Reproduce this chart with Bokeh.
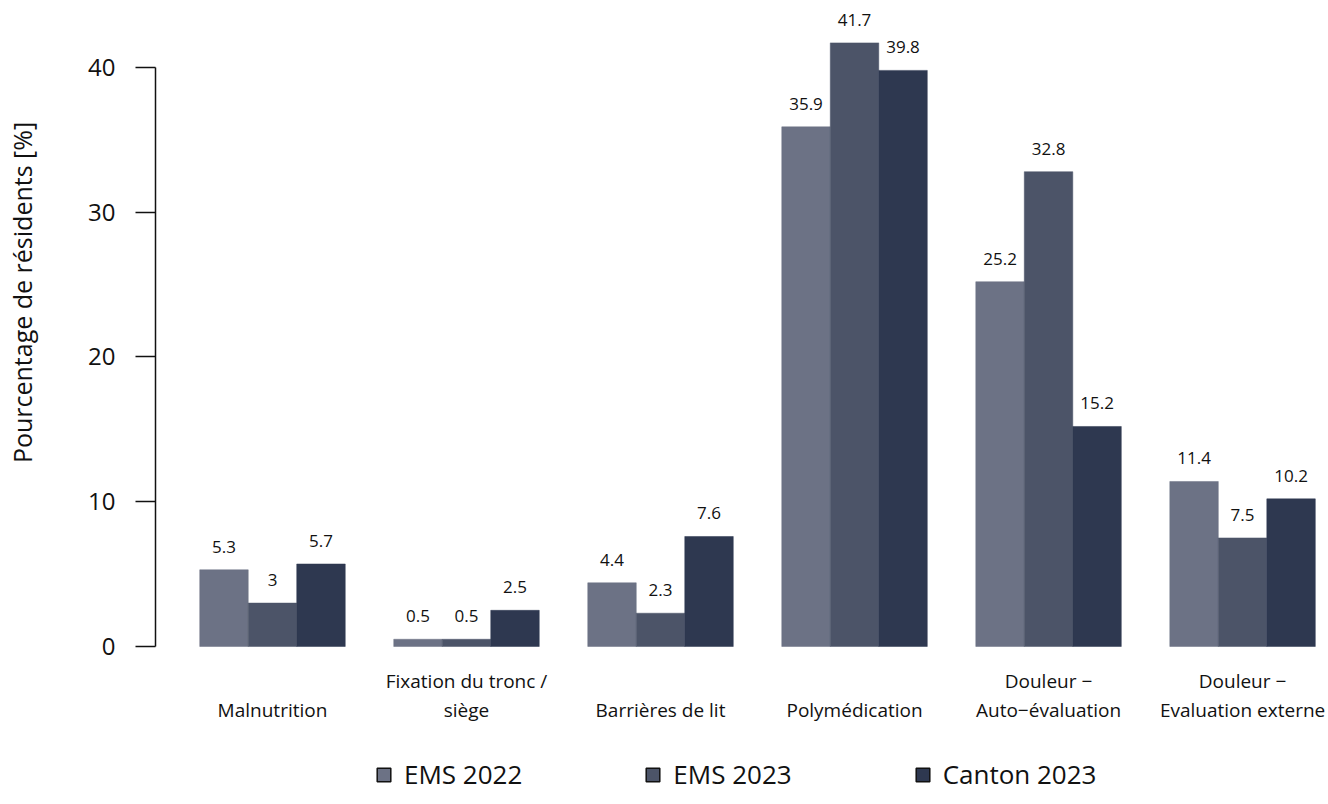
import math
from bokeh.plotting import figure
from bokeh.layouts import row
from bokeh.models import Range1d, FixedTicker, ColumnDataSource, Legend, LegendItem
from bokeh.transform import dodge
from bokeh.core.properties import value
from bokeh.embed import file_html
from bokeh.resources import INLINE

categories = ["Malnutrition", "Fixation du tronc /\nsiège", "Barrières de lit",
              "Polymédication", "Douleur \u2212\nAuto\u2212évaluation",
              "Douleur \u2212\nEvaluation externe"]
ems_2022 = [5.3, 0.5, 4.4, 35.9, 25.2, 11.4]
ems_2023 = [3.0, 0.5, 2.3, 41.7, 32.8, 7.5]
canton_2023 = [5.7, 2.5, 7.6, 39.8, 15.2, 10.2]
series_names = ["EMS 2022", "EMS 2023", "Canton 2023"]
series_values = [ems_2022, ems_2023, canton_2023]
colors = ["#6c7285", "#4c5468", "#2e3850"]
y_ticks = [0, 10, 20, 30, 40]
y_title = "Pourcentage de résidents [%]"

FONT = "Open Sans"
idx = list(range(len(categories)))

# narrow strip holding the rotated y-axis title
t = figure(width=40, height=804, x_range=Range1d(0, 40), y_range=Range1d(0, 804),
           output_backend="svg", toolbar_location=None,
           x_axis_location=None, y_axis_location=None,
           min_border_left=0, min_border_right=0, min_border_top=0, min_border_bottom=0)
t.title.visible = False
t.outline_line_color = None
t.grid.visible = False
t.text(x=[21], y=[512], text=[y_title], angle=math.pi / 2, text_align="center",
       text_baseline="middle", text_font=value(FONT), text_font_size="25px",
       text_color="#111111")

p = figure(width=1288, height=804,
           x_range=Range1d(-0.603, 5.443), y_range=Range1d(-10.915, 44.628),
           output_backend="svg", toolbar_location=None,
           x_axis_location=None, y_axis_location="left",
           min_border_left=115, min_border_right=0, min_border_top=0, min_border_bottom=0)
p.title.visible = False
p.outline_line_color = None
p.grid.visible = False

ax = p.yaxis[0]
ax.ticker = FixedTicker(ticks=y_ticks)
ax.bounds = (0, 40)
ax.major_tick_out = 20
ax.major_tick_in = 0
ax.minor_tick_out = 0
ax.minor_tick_in = 0
ax.major_label_standoff = 20
ax.major_label_orientation = "horizontal"
ax.major_label_text_font = FONT
ax.major_label_text_font_size = "24px"
ax.major_label_text_color = "#111111"
ax.axis_line_width = 1.5
ax.major_tick_line_width = 1.5
ax.axis_line_color = "#111111"
ax.major_tick_line_color = "#111111"

offsets = [-0.25, 0.0, 0.25]
legend_items = []
for name, vals, col, off in zip(series_names, series_values, colors, offsets):
    src = ColumnDataSource(dict(x=idx, top=vals, label=[f"{v:g}" for v in vals]))
    p.vbar(x=dodge("x", off, range=p.x_range), top="top", bottom=0, width=0.25,
           source=src, fill_color=col, line_color=col, line_width=0.5)
    p.text(x=dodge("x", off, range=p.x_range), y="top", text="label", source=src,
           text_align="center", text_baseline="middle", y_offset=-23,
           text_font=value(FONT), text_font_size="17px", text_color="#111111")
    dummy = p.rect(x=[-100], y=[-100], width=1, height=1, fill_color=col,
                   line_color="#111111", line_width=1.5)
    legend_items.append(LegendItem(label=name, renderers=[dummy]))

cat_src = ColumnDataSource(dict(x=idx, y=[0] * len(idx), text=categories))
p.text(x="x", y="y", text="text", source=cat_src, text_align="center",
       text_baseline="bottom", y_offset=76, text_line_height=1.08,
       text_font=value(FONT), text_font_size="19px", text_color="#111111")

legend = Legend(items=legend_items, orientation="horizontal", location=(220, 12),
                spacing=122, glyph_width=17, glyph_height=17, label_standoff=12,
                padding=0, margin=0, border_line_color=None, background_fill_alpha=0,
                label_text_font=FONT, label_text_font_size="26px",
                label_text_color="#111111")
p.add_layout(legend)

layout = row(t, p, spacing=0)
open("out.html", "w").write(file_html(layout, INLINE))
